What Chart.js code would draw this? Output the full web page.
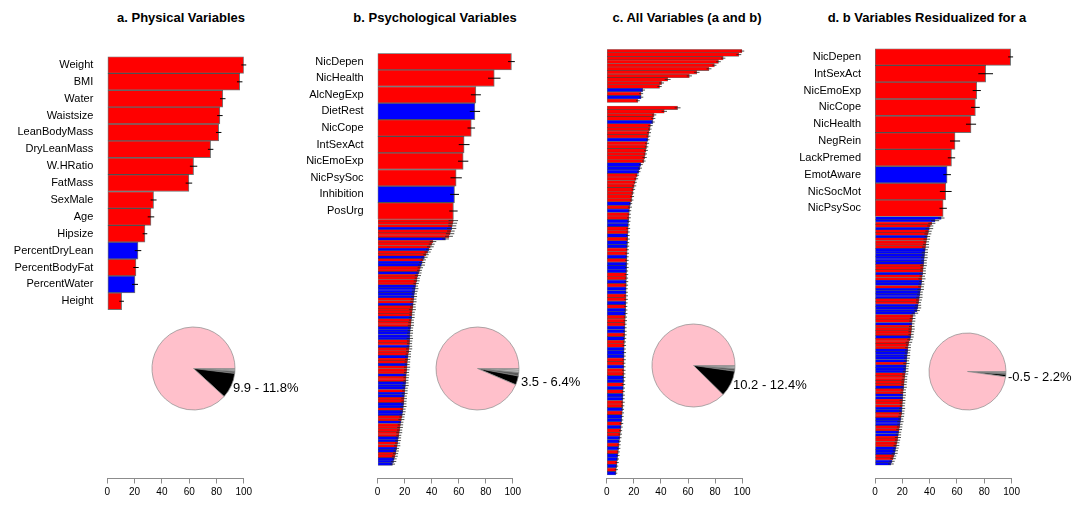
<!DOCTYPE html>
<html>
<head>
<meta charset="utf-8">
<script src="https://cdn.jsdelivr.net/npm/chart.js@4"></script>
<style>
  html, body { margin: 0; padding: 0; background: #fff; }
  #wrap { position: relative; width: 1077px; height: 507px; overflow: hidden;
          font-family: "Liberation Sans", Arial, sans-serif; color: #000; }
  canvas { position: absolute; }
  .title { position: absolute; top: 10px; line-height: 16px; font-size: 13px; font-weight: bold;
           white-space: nowrap; transform: translateX(-50%); }
  .pct { position: absolute; font-size: 13px; line-height: 16px; white-space: nowrap; }
</style>
</head>
<body>
<div id="wrap">
  <div class="title" style="left:181px">a. Physical Variables</div>
  <div class="title" style="left:435px">b. Psychological Variables</div>
  <div class="title" style="left:687px">c. All Variables (a and b)</div>
  <div class="title" style="left:927px">d. b Variables Residualized for a</div>

  <canvas id="barA"></canvas>
  <canvas id="barB"></canvas>
  <canvas id="barB2"></canvas>
  <canvas id="barC"></canvas>
  <canvas id="barD"></canvas>
  <canvas id="barD2"></canvas>

  <canvas id="pieA"></canvas>
  <canvas id="pieB"></canvas>
  <canvas id="pieC"></canvas>
  <canvas id="pieD"></canvas>
</div>

<script>
"use strict";

// a. physical variables
const physNames = ["Weight", "BMI", "Water", "Waistsize", "LeanBodyMass", "DryLeanMass", "W.HRatio",
  "FatMass", "SexMale", "Age", "Hipsize", "PercentDryLean", "PercentBodyFat", "PercentWater", "Height"];
const physVals = [100, 97, 84.6, 82.5, 81.6, 75.7, 63.2, 59.8, 33.9, 32, 27.6, 22.5, 21, 20.3, 10.5];
const physErr = [1.8, 2.0, 2.0, 2.0, 2.0, 2.0, 2.7, 2.4, 2.2, 2.4, 1.7, 2.4, 2.0, 2.2, 1.7];
const physCols = "RRRRRRRRRRRBRBR";

// b. psychological variables (top 10 named, rest unnamed)
const psyNames = ["NicDepen", "NicHealth", "AlcNegExp", "DietRest", "NicCope", "IntSexAct",
  "NicEmoExp", "NicPsySoc", "Inhibition", "PosUrg"];
const psyVals = [99, 86.3, 72.7, 72, 69.3, 64, 63.3, 58.1, 56.9, 56.1];
const psyErr = [2.5, 4.6, 3.7, 3.8, 2.8, 4.0, 3.8, 4.2, 3.3, 3.1];
const psyCols = "RRRBRRRRBR";
const psyRestVals = [
  56, 55.6, 55.2, 54.8, 54.2, 53.6, 52.8, 50.2, 41, 40,
  39, 38, 37, 35.8, 34.6, 33.8, 33, 32.4, 31.6, 31,
  30.4, 29.8, 29.3, 28.9, 28.5, 28.1, 27.8, 27.5, 27.2, 27,
  26.7, 26.5, 26.3, 26.1, 25.8, 25.6, 25.4, 25.2, 25, 24.8,
  24.6, 24.4, 24.2, 24, 23.9, 23.8, 23.7, 23.6, 23.5, 23.3,
  23, 22.7, 22.5, 22.2, 22, 21.9, 21.8, 21.6, 21.4, 21.2,
  21.1, 21, 20.8, 20.6, 20.4, 20.2, 20, 19.8, 19.6, 19.5,
  19.3, 19.1, 18.9, 18.6, 18.3, 18, 17.6, 17.3, 16.9, 16.6,
  16.3, 16, 15.7, 15.4, 15.1, 14.8, 14.5, 14.1, 13.7, 13.3,
  12.8, 12.3, 11.8, 11];
const psyRestErr = [
  3.5, 3.2, 3.0, 3.4, 2.8, 3.1, 2.9, 2.6, 2.4, 2.2,
  2.5, 2.1, 2.3, 2.0, 2.4, 1.9, 2.2, 2.6, 2.0, 1.8,
  2.1, 2.3, 1.9, 2.2, 2.0, 1.8, 2.4, 2.1, 1.9, 2.2,
  2.0, 2.3, 1.8, 2.1, 2.5, 1.9, 2.0, 2.2, 1.8, 2.1,
  2.3, 1.9, 2.0, 2.2, 1.8, 2.4, 2.0, 1.9, 2.1, 2.3,
  1.8, 2.0, 2.2, 1.9, 2.1, 1.8, 2.3, 2.0, 1.9, 2.2,
  2.0, 1.8, 2.1, 2.4, 1.9, 2.0, 2.2, 1.8, 2.1, 1.9,
  2.0, 2.3, 1.8, 2.1, 2.0, 1.9, 2.2, 1.8, 2.0, 2.1,
  1.9, 2.2, 1.8, 2.0, 2.1, 1.9, 2.3, 1.8, 2.0, 1.9,
  2.1, 1.8, 2.0, 1.9];
const psyRestCols = "RRRBRRRBRR" + "RBRRBRBBRR" + "BRRRRBBBBB" + "RRBRRRRBRR" + "RBBBBBRRBR" +
  "RRBRRBRRRB" + "RRBBBRBBRR" + "BBRBBRRBRR" + "RRRBBRRBBR" + "RBBB";

// c. all variables: physical block, then psychological block
const allPhysVals = [100, 97.5, 86, 82.5, 79.5, 75.5, 66.5, 61, 45, 40.5, 39, 26.6, 25.4, 25.4, 23];
const allPhysErr = [1.5, 1.8, 1.6, 1.7, 1.5, 1.8, 2.0, 1.9, 2.2, 1.8, 1.6, 1.7, 1.5, 1.6, 1.4];
const allPhysCols = "RRRRRRRRRRRBRBR";
const allPsyVals = [
  52.3, 42.5, 35, 34.4, 34, 32.3, 31.8, 31.2, 30.8, 30.4,
  29.8, 29.4, 29, 28.5, 28, 27.4, 25.2, 24.5, 23.7, 22.6,
  21.8, 21, 20.3, 19.7, 19.2, 18.8, 18.4, 17.6, 17.1, 16.8,
  16.6, 16.4, 16.2, 16, 15.9, 15.8, 15.6, 15.5, 15.4, 15.3,
  15.2, 15.1, 15, 14.9, 14.8, 14.8, 14.7, 14.6, 14.6, 14.5,
  14.5, 14.4, 14.4, 14.3, 14.3, 14.2, 14.1, 14, 13.9, 13.8,
  13.7, 13.6, 13.5, 13.4, 13.3, 13.2, 13.1, 13, 12.9, 12.9,
  12.8, 12.8, 12.7, 12.7, 12.6, 12.6, 12.5, 12.5, 12.4, 12.3,
  12.2, 12.1, 12, 11.9, 11.8, 11.7, 11.5, 11.3, 11.1, 10.9,
  10.6, 10.3, 10, 9.7, 9.4, 9.1, 8.8, 8.6, 8.3, 8,
  7.7, 7.4, 7.1, 6.8];
const allPsyErr = [
  2.2, 2.0, 1.6, 1.5, 1.4, 1.6, 1.3, 1.5, 1.4, 1.2,
  1.5, 1.3, 1.4, 1.2, 1.6, 1.3, 1.4, 1.5, 1.2, 1.3,
  1.4, 1.2, 1.5, 1.3, 1.1, 1.4, 1.3, 1.2, 1.5, 1.3,
  1.2, 1.4, 1.3, 1.1, 1.4, 1.2, 1.3, 1.5, 1.2, 1.3,
  1.1, 1.4, 1.2, 1.3, 1.2, 1.4, 1.1, 1.3, 1.2, 1.4,
  1.3, 1.1, 1.2, 1.4, 1.3, 1.2, 1.1, 1.3, 1.4, 1.2,
  1.3, 1.1, 1.2, 1.3, 1.4, 1.2, 1.1, 1.3, 1.2, 1.4,
  1.2, 1.3, 1.1, 1.2, 1.3, 1.2, 1.4, 1.1, 1.3, 1.2,
  1.1, 1.3, 1.2, 1.4, 1.2, 1.1, 1.3, 1.2, 1.1, 1.3,
  1.2, 1.1, 1.3, 1.2, 1.1, 1.2, 1.3, 1.1, 1.2, 1.1,
  1.2, 1.1, 1.2, 1.0];
const allPsyCols = "RRRRBRRRRB" + "RRRRRRBBBR" + "RRRRRRRBRB" + "RRBBRRBRBB" + "RRBRBBBRRB" +
  "RBBRRBRBBR" + "RRBBRBRRBB" + "BRRBRRBBRB" + "RBBRRBRBBR" + "BRRBBRBRBB" + "RBRB";

// d. b variables residualized for a
const resNames = ["NicDepen", "IntSexAct", "NicEmoExp", "NicCope", "NicHealth", "NegRein",
  "LackPremed", "EmotAware", "NicSocMot", "NicPsySoc"];
const resVals = [99.3, 81, 74.5, 73.5, 70.3, 58.6, 56, 52.8, 51.8, 49.9];
const resErr = [1.8, 5.4, 3.0, 3.2, 3.7, 3.7, 2.7, 2.8, 4.3, 2.7];
const resCols = "RRRRRRRBRR";
const resRestVals = [
  48.5, 44, 41.6, 40.5, 39.8, 39.2, 38.7, 38.3, 37.9, 37.6,
  37.3, 37, 36.8, 36.5, 36.3, 36.1, 35.9, 35.7, 35.5, 35.3,
  35.1, 34.9, 34.6, 34.4, 34.2, 34, 33.7, 33.4, 33.1, 32.8,
  32.5, 32.2, 31.9, 31.6, 31.3, 30.8, 29.2, 27.8, 27.5, 27.3,
  27.1, 26.9, 26.8, 26.6, 26.4, 26.1, 25.6, 24.8, 24.5, 24.2,
  24, 23.8, 23.6, 23.4, 23.2, 23, 22.8, 22.6, 22.4, 22.1,
  21.8, 21.6, 21.4, 21.2, 21, 20.8, 20.6, 20.5, 20.3, 20.2,
  20.1, 20, 19.9, 19.7, 19.5, 19.2, 18.9, 18.6, 18.3, 18,
  17.7, 17.4, 17.1, 16.8, 16.5, 16.1, 15.7, 15.3, 14.9, 14.4,
  13.8, 13.2, 12.5, 11.6];
const resRestErr = [
  2.4, 3.0, 2.6, 2.2, 2.8, 2.3, 2.5, 2.1, 2.4, 2.0,
  2.2, 2.6, 1.9, 2.3, 2.1, 2.5, 2.0, 2.2, 2.4, 1.9,
  2.1, 2.3, 2.0, 2.6, 1.8, 2.2, 2.1, 2.4, 1.9, 2.0,
  2.3, 2.1, 1.8, 2.2, 2.5, 2.0, 2.4, 1.9, 2.1, 2.2,
  1.8, 2.0, 2.3, 2.1, 1.9, 2.2, 2.0, 2.4, 1.8, 2.1,
  2.0, 1.9, 2.2, 2.1, 1.8, 2.3, 2.0, 1.9, 2.1, 2.2,
  1.8, 2.0, 2.1, 1.9, 2.3, 1.8, 2.0, 2.2, 1.9, 2.1,
  2.0, 1.8, 2.2, 1.9, 2.0, 2.1, 1.8, 2.3, 1.9, 2.0,
  2.1, 1.8, 2.0, 2.2, 1.9, 1.8, 2.1, 2.0, 1.9, 2.2,
  1.8, 2.0, 1.9, 2.1];
const resRestCols = "BBRRBRRBRR" + "RRBBBBBBRR" + "RBRRBBRBBB" + "BRRBBBBRRR" + "BRRRRBRRRR" +
  "BBBBBRBBBR" + "RRRRBRRBBR" + "RRBBRRBBBR" + "RBBRRRRBBB" + "RRBB";

const xTicks = [0, 20, 40, 60, 80, 100];

// pies: slices clockwise from 3 o'clock (light, grey, dark, black, rest)
const pieA = [0.5, 0.6, 0.8, 9.9, 88.2];
const pieB = [0.6, 1.0, 1.3, 3.5, 93.6];
const pieC = [0.5, 0.7, 1.0, 10.2, 87.6];
const pieD = [0.3, 0.4, 0.5, 1.0, 97.8];
const pieLabels = ["9.9 - 11.8%", "3.5 - 6.4%", "10.2 - 12.4%", "-0.5 - 2.2%"];
const pieColors = ["#f4f4f4", "#b4b4b4", "#5a5a5a", "#000000", "#ffc0cb"];

const FONT = '"Liberation Sans", Arial, sans-serif';
const H = 507;
const XH = 22; // height of the x axis box
Chart.defaults.font.family = FONT;

function colorOf(c) {
  return c === "B" ? "#0000ff" : "#ff0000";
}

// horizontal error bars at the end of every bar
const errorBars = {
  id: "errorBars",
  afterDatasetsDraw(chart) {
    const ctx = chart.ctx;
    const xs = chart.scales.x;
    chart.data.datasets.forEach(function (ds, di) {
      const meta = chart.getDatasetMeta(di);
      ctx.save();
      ctx.strokeStyle = ds.errColor;
      ctx.lineWidth = ds.errWidth;
      meta.data.forEach(function (bar, i) {
        const v = ds.data[i];
        const e = ds.errors[i];
        if (v == null || e == null) return;
        ctx.beginPath();
        ctx.moveTo(xs.getPixelForValue(v - e), bar.y);
        ctx.lineTo(xs.getPixelForValue(v + e), bar.y);
        ctx.stroke();
      });
      ctx.restore();
    });
  },
};

function barChart(id, o) {
  const cv = document.getElementById(id);
  const yw = o.zero - o.left;
  const padR = 28;
  cv.width = Math.round(o.full - o.left + padR);
  cv.height = H;
  cv.style.left = o.left + "px";
  cv.style.top = "0px";
  const right = cv.width - (o.full - o.left);

  return new Chart(cv, {
    type: "bar",
    data: {
      labels: o.labels,
      datasets: [
        {
          data: o.vals,
          errors: o.errs,
          errColor: o.thin ? "#222" : "#000",
          errWidth: o.thin ? 0.8 : 1,
          backgroundColor: o.cols.split("").map(colorOf),
          borderColor: "rgba(0,0,0,0.55)",
          borderWidth: o.bw,
          borderSkipped: false,
          barPercentage: 1,
          categoryPercentage: 1,
        },
      ],
    },
    options: {
      indexAxis: "y",
      responsive: false,
      animation: false,
      devicePixelRatio: 1,
      layout: {
        padding: {
          left: 0,
          right: right,
          top: o.top,
          bottom: o.showX ? H - o.bottom - XH : H - o.bottom,
        },
      },
      plugins: { legend: { display: false }, tooltip: { enabled: false } },
      scales: {
        x: {
          display: o.showX,
          min: 0,
          max: 100,
          afterFit(s) { s.height = o.showX ? XH : 0; },
          afterBuildTicks(s) { s.ticks = xTicks.map((v) => ({ value: v })); },
          grid: { drawOnChartArea: false, drawTicks: true, tickLength: 5, color: "#8c8c8c" },
          border: { display: true, color: "#8c8c8c", width: 1 },
          ticks: { color: "#000", font: { size: 10 }, padding: 3, maxRotation: 0 },
        },
        y: {
          afterFit(s) { s.width = yw; },
          grid: { display: false, drawTicks: false, tickLength: 0 },
          border: { display: false },
          ticks: {
            display: o.named,
            autoSkip: false,
            color: "#000",
            font: { size: 11 },
            padding: 14,
          },
        },
      },
    },
    plugins: [errorBars],
  });
}

function blanks(n) {
  return Array(n).fill("");
}

// a
barChart("barA", {
  left: 0, zero: 107.3, full: 243.8, top: 56.5, bottom: 478.5, showX: true, named: true, bw: 1,
  labels: physNames.concat(blanks(10)), vals: physVals, errs: physErr, cols: physCols,
});

// b
barChart("barB", {
  left: 267, zero: 377.6, full: 512.8, top: 53.3, bottom: 219.3, showX: false, named: true, bw: 1,
  labels: psyNames, vals: psyVals, errs: psyErr, cols: psyCols,
});
barChart("barB2", {
  left: 267, zero: 377.6, full: 512.8, top: 219.3, bottom: 478.5, showX: true, named: false, bw: 0.5,
  thin: true, labels: blanks(psyRestVals.length + 5), vals: psyRestVals, errs: psyRestErr,
  cols: psyRestCols,
});

// c
barChart("barC", {
  left: 496, zero: 606.7, full: 742.2, top: 49.3, bottom: 478.5, showX: true, named: false, bw: 0.6,
  thin: true,
  labels: blanks(allPhysVals.length + 1 + allPsyVals.length + 1),
  vals: allPhysVals.concat([null], allPsyVals, [null]),
  errs: allPhysErr.concat([null], allPsyErr, [null]),
  cols: allPhysCols + "R" + allPsyCols + "R",
});

// d
barChart("barD", {
  left: 765, zero: 875, full: 1011.6, top: 48.5, bottom: 216.7, showX: false, named: true, bw: 1,
  labels: resNames, vals: resVals, errs: resErr, cols: resCols,
});
barChart("barD2", {
  left: 765, zero: 875, full: 1011.6, top: 216.7, bottom: 478.5, showX: true, named: false, bw: 0.5,
  thin: true, labels: blanks(resRestVals.length + 5), vals: resRestVals, errs: resRestErr,
  cols: resRestCols,
});

function pie(id, cx, cy, r, data, label, lx, ly) {
  const cv = document.getElementById(id);
  const s = Math.ceil(r * 2 + 6);
  cv.width = s;
  cv.height = s;
  cv.style.left = Math.round(cx - s / 2) + "px";
  cv.style.top = Math.round(cy - s / 2) + "px";
  new Chart(cv, {
    type: "pie",
    data: {
      datasets: [
        {
          data: data,
          backgroundColor: pieColors,
          borderColor: "#8a8a8a",
          borderWidth: 0.7,
        },
      ],
    },
    options: {
      responsive: false,
      animation: false,
      devicePixelRatio: 1,
      radius: r,
      rotation: 90,
      layout: { padding: 0 },
      plugins: { legend: { display: false }, tooltip: { enabled: false } },
    },
  });
  const t = document.createElement("div");
  t.className = "pct";
  t.textContent = label;
  t.style.left = lx + "px";
  t.style.top = ly - 8 + "px";
  document.getElementById("wrap").appendChild(t);
}

pie("pieA", 193, 368, 41.5, pieA, pieLabels[0], 233, 388);
pie("pieB", 477.5, 368, 41.5, pieB, pieLabels[1], 521, 382);
pie("pieC", 693, 365, 41.5, pieC, pieLabels[2], 733, 385);
pie("pieD", 967, 371, 38.5, pieD, pieLabels[3], 1008, 377);
</script>
</body>
</html>
